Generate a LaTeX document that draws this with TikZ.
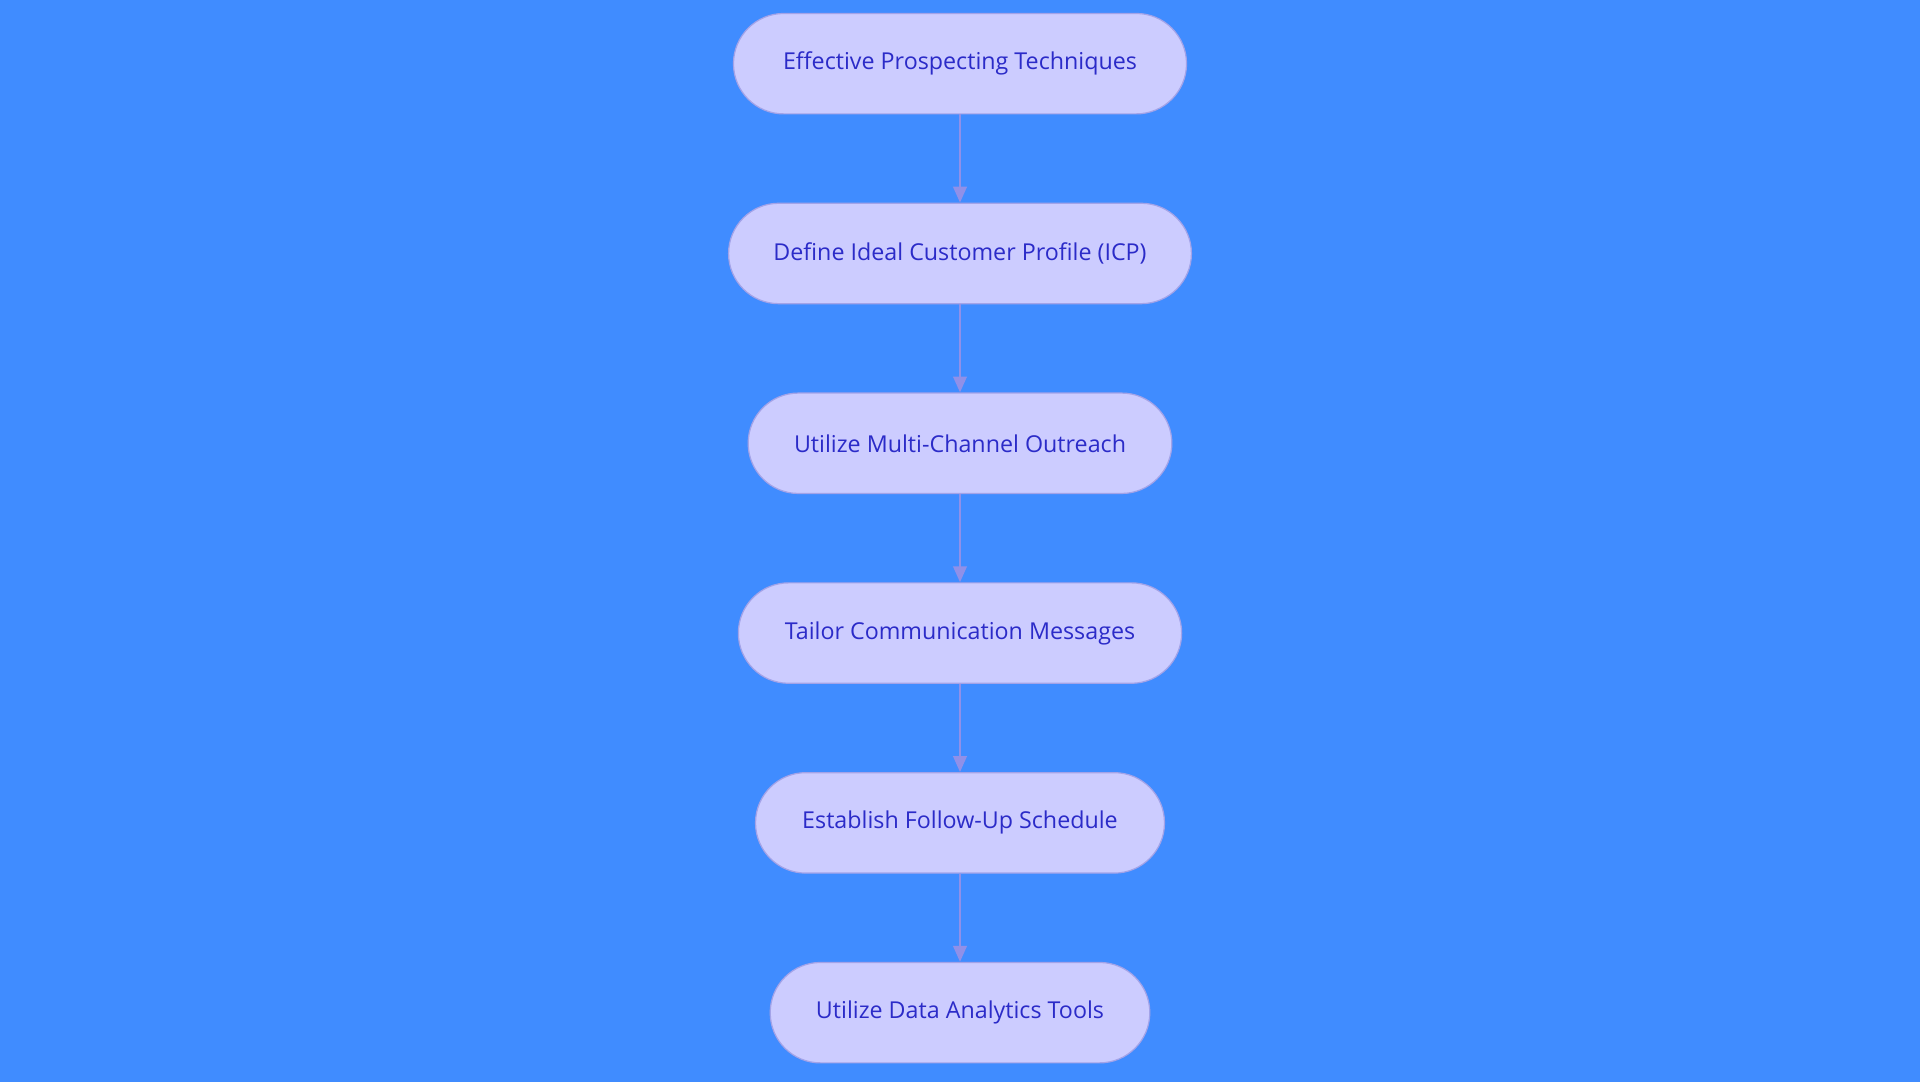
\documentclass[tikz,border=0pt]{standalone}
\usepackage{fontspec}
\setmainfont{Open Sans}
\usetikzlibrary{arrows.meta}
\definecolor{bg}{HTML}{408CFF}
\definecolor{nf}{HTML}{CCCCFF}
\definecolor{nb}{HTML}{A3A3E8}
\definecolor{tx}{HTML}{2B2BC8}
\definecolor{ar}{HTML}{9090E8}
\begin{document}
\begin{tikzpicture}[x=1pt,y=1pt,
 box/.style={rounded corners=41pt,draw=nb,line width=1pt,fill=nf,minimum height=82pt,text=tx,font=\fontsize{19}{22}\selectfont,inner sep=0pt},
 arr/.style={draw=ar,line width=2pt,-{Triangle[width=11pt,length=13pt]}}]
\fill[bg] (0,0) rectangle (1568,-884);
\useasboundingbox (0,0) rectangle (1568,-884);
\node[box,minimum width=370pt] (n1) at (784,-52) {Effective Prospecting Techniques};
\node[box,minimum width=378pt] (n2) at (784,-207) {Define Ideal Customer Profile (ICP)};
\node[box,minimum width=346pt] (n3) at (784,-362) {Utilize Multi-Channel Outreach};
\node[box,minimum width=362pt] (n4) at (784,-517) {Tailor Communication Messages};
\node[box,minimum width=334pt] (n5) at (784,-672) {Establish Follow-Up Schedule};
\node[box,minimum width=310pt] (n6) at (784,-827) {Utilize Data Analytics Tools};
\draw[arr] (n1) -- (n2);
\draw[arr] (n2) -- (n3);
\draw[arr] (n3) -- (n4);
\draw[arr] (n4) -- (n5);
\draw[arr] (n5) -- (n6);
\end{tikzpicture}
\end{document}
